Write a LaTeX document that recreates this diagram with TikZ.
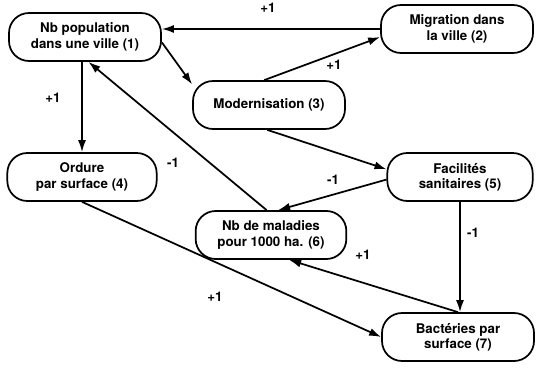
\documentclass[tikz,border=0pt]{standalone}
\usepackage{fontspec}
\setmainfont{TeX Gyre Heros}
\usetikzlibrary{arrows.meta}
\tikzset{ %
  ,>={Latex[length=9pt,width=6pt]}
  ,every node/.style={font=\bfseries\fontsize{10}{11.5}\selectfont}
  ,box/.style={draw, rounded corners=15pt, line width=1.3pt, align=center, minimum width=114pt, minimum height=36pt, inner sep=0}
  ,conn/.style={line width=1.3pt, ->}
  ,coef/.style={inner sep=0}
}
\begin{document}
\begin{tikzpicture}[x=0.75pt, y=-0.75pt]
      \useasboundingbox (0,0) rectangle (538,367);
      \draw
      node[box] (N1) at (85,37) {Nb population\\dans une ville (1)}
      node[box] (N2) at (457,29) {Migration dans\\la ville (2)}
      node[box] (N3) at (269,105) {Modernisation (3)}
      node[box, minimum width=112pt] (N4) at (82,177) {Ordure\\par surface (4)}
      node[box, minimum width=109pt] (N5) at (460,177) {Facilités\\sanitaires (5)}
      node[box, minimum width=113pt] (N6) at (271,235) {Nb de maladies\\pour 1000 ha. (6)}
      node[box] (N7) at (458,337) {Bactéries par\\surface (7)};
      \draw [conn] (N2.west) -- (N2.west -| N1.east);
      \draw [conn] (N3.101) -- (N2.186);
      \draw [conn] (N1.-4) -- (N3.165);
      \draw [conn] (N4.north |- N1.south) -- (N4.north);
      \draw [conn] (N6.100) -- (N1.-82);
      \draw [conn] (N3.-94) -- (N5.174);
      \draw [conn] (N5.182) -- (N6.74);
      \draw [conn] (N5.south) -- (N5.south |- N7.north);
      \draw [conn] (N7.north) -- (N6.-54);
      \draw [conn] (N4.south) -- (N7.west);
      % coefficients
      \node[coef] (c21) at (268,8) {+1};
      \node[coef] (c32) at (334,65) {+1};
      \node[coef] (c14) at (53,98) {+1};
      \node[coef] (c61) at (173,163) {-1};
      \node[coef] (c56) at (333,180) {-1};
      \node[coef] (c57) at (473,233) {-1};
      \node[coef] (c76) at (363,255) {+1};
      \node[coef] (c47) at (215,297) {+1};
    \end{tikzpicture}
\end{document}
